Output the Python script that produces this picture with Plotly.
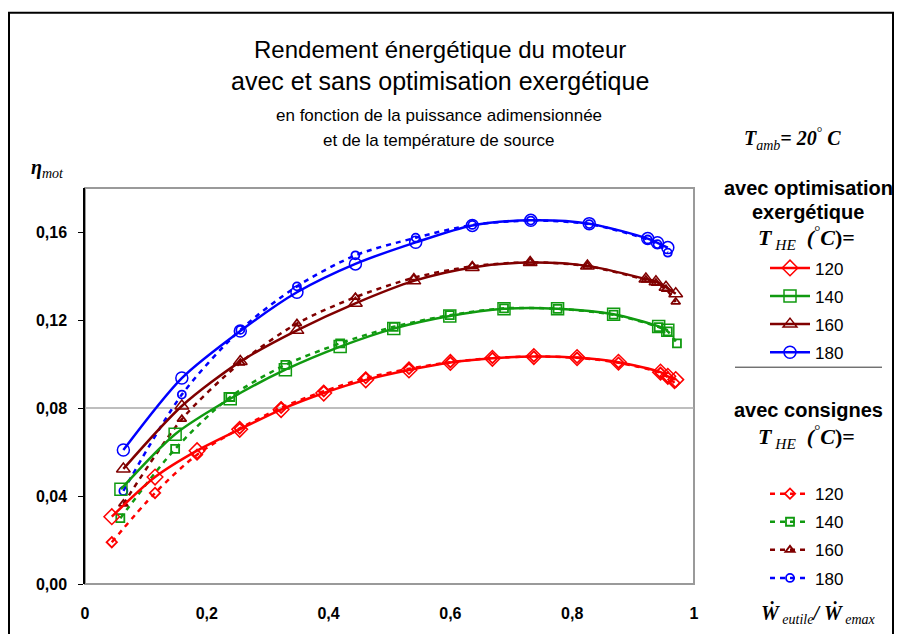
import plotly.graph_objects as go

# ---------------- data ----------------
T_LABELS = ["120", "140", "160", "180"]

X_OPT_120 = [0.044, 0.115, 0.184, 0.254, 0.322, 0.392, 0.461, 0.532, 0.600, 0.669, 0.737, 0.808, 0.876, 0.945, 0.957, 0.970]
Y_OPT_120 = [0.0306, 0.0486, 0.0606, 0.0703, 0.0793, 0.0868, 0.0928, 0.0973, 0.1007, 0.1026, 0.1034, 0.1029, 0.1008, 0.0963, 0.0944, 0.0929]
X_CON_120 = [0.044, 0.115, 0.184, 0.254, 0.322, 0.392, 0.461, 0.532, 0.600, 0.669, 0.737, 0.808, 0.876, 0.945, 0.957, 0.968]
Y_CON_120 = [0.0190, 0.0414, 0.0588, 0.0707, 0.0801, 0.0876, 0.0936, 0.0978, 0.1008, 0.1027, 0.1034, 0.1028, 0.1006, 0.0960, 0.0940, 0.0914]

X_OPT_140 = [0.059, 0.148, 0.2385, 0.329, 0.419, 0.507, 0.599, 0.688, 0.776, 0.868, 0.942, 0.957]
Y_OPT_140 = [0.0431, 0.0681, 0.0842, 0.0974, 0.1079, 0.1161, 0.1218, 0.1251, 0.1251, 0.1226, 0.1171, 0.1153]
X_CON_140 = [0.058, 0.148, 0.2385, 0.329, 0.419, 0.507, 0.599, 0.688, 0.776, 0.868, 0.942, 0.957, 0.972]
Y_CON_140 = [0.0299, 0.0614, 0.0850, 0.0996, 0.1094, 0.1169, 0.1222, 0.1253, 0.1251, 0.1224, 0.1168, 0.1148, 0.1094]

X_OPT_160 = [0.063, 0.159, 0.255, 0.348, 0.444, 0.540, 0.636, 0.731, 0.825, 0.921, 0.9375, 0.954, 0.970]
Y_OPT_160 = [0.0523, 0.0809, 0.1011, 0.1153, 0.1276, 0.1378, 0.1439, 0.1461, 0.1446, 0.1386, 0.1374, 0.1349, 0.1319]
X_CON_160 = [0.063, 0.159, 0.255, 0.348, 0.444, 0.540, 0.636, 0.731, 0.825, 0.921, 0.9375, 0.954, 0.970]
Y_CON_160 = [0.0364, 0.0749, 0.1005, 0.1184, 0.1304, 0.1392, 0.1444, 0.1462, 0.1445, 0.1382, 0.1368, 0.1340, 0.1282]

X_OPT_180 = [0.063, 0.159, 0.255, 0.348, 0.444, 0.543, 0.636, 0.732, 0.828, 0.924, 0.940, 0.957]
Y_OPT_180 = [0.0609, 0.0936, 0.1150, 0.1326, 0.1455, 0.1553, 0.1630, 0.1653, 0.1638, 0.1570, 0.1551, 0.1529]
X_CON_180 = [0.063, 0.159, 0.255, 0.348, 0.444, 0.543, 0.636, 0.732, 0.828, 0.924, 0.940, 0.957]
Y_CON_180 = [0.0423, 0.0861, 0.1155, 0.1353, 0.1494, 0.1574, 0.1632, 0.1652, 0.1636, 0.1566, 0.1545, 0.1506]

X_TICKS = [0, 0.2, 0.4, 0.6, 0.8, 1]
Y_TICKS = [0.00, 0.04, 0.08, 0.12, 0.16]
GRID_Y = 0.08

# ---------------- styles ----------------
COLORS = ["#FF0000", "#109A10", "#800000", "#0000FF"]
SYMBOLS = ["diamond-open", "square-open", "triangle-up-open", "circle-open"]
SANS = "Liberation Sans, Arial, sans-serif"
SERIF = "Liberation Serif, DejaVu Serif, Times New Roman, serif"

opt = [(X_OPT_120, Y_OPT_120), (X_OPT_140, Y_OPT_140), (X_OPT_160, Y_OPT_160), (X_OPT_180, Y_OPT_180)]
con = [(X_CON_120, Y_CON_120), (X_CON_140, Y_CON_140), (X_CON_160, Y_CON_160), (X_CON_180, Y_CON_180)]

fig = go.Figure()
for i, (xs, ys) in enumerate(con):
    fig.add_trace(go.Scatter(
        x=xs, y=ys, mode="lines+markers", name=T_LABELS[i], legend="legend2",
        legendgroup="c" + T_LABELS[i],
        line=dict(color=COLORS[i], width=2.5, dash="5px,5px", shape="spline", smoothing=0.8),
        marker=dict(symbol=SYMBOLS[i], size=8, color=COLORS[i], line=dict(width=1.8, color=COLORS[i])),
    ))
for i, (xs, ys) in enumerate(opt):
    fig.add_trace(go.Scatter(
        x=xs, y=ys, mode="lines+markers", name=T_LABELS[i], legend="legend",
        legendgroup="o" + T_LABELS[i],
        line=dict(color=COLORS[i], width=2.5, shape="spline", smoothing=0.8),
        marker=dict(symbol=SYMBOLS[i], size=12, color=COLORS[i], line=dict(width=1.5, color=COLORS[i])),
    ))

# helper: pixel -> paper coordinates (plot area 85..694 x, 188..588 y)
L, R, T, B = 85, 694, 188, 588
def px(xp):
    return (xp - L) / (R - L)
def py(yp):
    return (B - yp) / (B - T)

shapes = [
    dict(type="rect", xref="paper", yref="paper", x0=px(9), x1=px(893), y0=py(660), y1=py(11),
         line=dict(color="black", width=2)),
    dict(type="rect", xref="paper", yref="paper", x0=0, x1=1, y0=0, y1=1,
         line=dict(color="#9A9A9A", width=2), layer="below"),
    dict(type="line", xref="paper", yref="y", x0=0, x1=1, y0=GRID_Y, y1=GRID_Y,
         line=dict(color="#A8A8A8", width=1.5), layer="below"),
    dict(type="line", xref="paper", yref="paper", x0=px(735), x1=px(882), y0=py(369), y1=py(369),
         line=dict(color="#333333", width=1)),
]

ann = []
def add(text, xp, yp, size, family, weight="normal"):
    ann.append(dict(text=text, x=px(xp), y=py(yp), xref="paper", yref="paper", showarrow=False,
                    xanchor="center", yanchor="middle",
                    font=dict(size=size, family=family, color="black", weight=weight)))

add("Rendement énergétique du moteur", 440, 48, 24, SANS)
add("avec et sans optimisation exergétique", 440, 80, 25, SANS)
add("en fonction de la puissance adimensionnée", 439, 115, 17, SANS)
add("et de la température de source", 439, 140, 17, SANS)
add("<b><i>T</i></b><sub><i>amb</i></sub><b><i>= 20</i></b><sup>°</sup><b><i> C</i></b>", 792, 139, 20, SERIF)
add("<b><i>η</i></b><sub><i>mot</i></sub>", 47, 168, 20, SERIF)
add("<b><i>Ẇ</i></b><sub><i> eutile</i></sub><b><i>/ Ẇ</i></b><sub><i> emax</i></sub>", 818, 618, 20, SERIF)
add("avec optimisation", 808, 188, 20, SANS, "bold")
add("exergétique", 808, 212, 20, SANS, "bold")
add("<b><i>T</i></b><sub><i> HE</i></sub><b><i>  (</i></b><sup>°</sup><b><i>C</i></b><b>)=</b>", 806, 238, 22, SERIF)
add("avec consignes", 808, 412, 20, SANS, "bold")
add("<b><i>T</i></b><sub><i> HE</i></sub><b><i>  (</i></b><sup>°</sup><b><i>C</i></b><b>)=</b>", 806, 439, 22, SERIF)

legend_common = dict(xanchor="left", yanchor="top", bgcolor="rgba(0,0,0,0)",
                     font=dict(size=17, family=SANS, color="black"), itemwidth=40,
                     traceorder="grouped", tracegroupgap=3)

fig.update_layout(
    width=900, height=634,
    margin=dict(l=L, r=900 - R, t=T, b=634 - B),
    paper_bgcolor="white", plot_bgcolor="white",
    separators=", ",
    showlegend=True,
    legend=dict(x=px(765), y=py(251), **legend_common),
    legend2=dict(x=px(765), y=py(479), **legend_common),
    xaxis=dict(range=[0, 1.0], tickvals=X_TICKS, showgrid=False, zeroline=False, showline=False,
               ticks="", tickfont=dict(size=16, family=SANS, color="black", weight="bold"),
               ticklabelstandoff=18, tickformat="~g"),
    yaxis=dict(range=[0, 0.18], tickvals=Y_TICKS, tickformat=".2f", showgrid=False, zeroline=False,
               showline=True, linecolor="black", linewidth=1.5, ticks="outside", ticklen=5,
               tickcolor="black", tickfont=dict(size=16, family=SANS, color="black", weight="bold"),
               ticklabelstandoff=8),
    shapes=shapes,
    annotations=ann,
)

fig.write_html("out.html", config={"displayModeBar": False},
               post_script="document.body.style.margin='0';document.body.style.overflow='hidden';")
